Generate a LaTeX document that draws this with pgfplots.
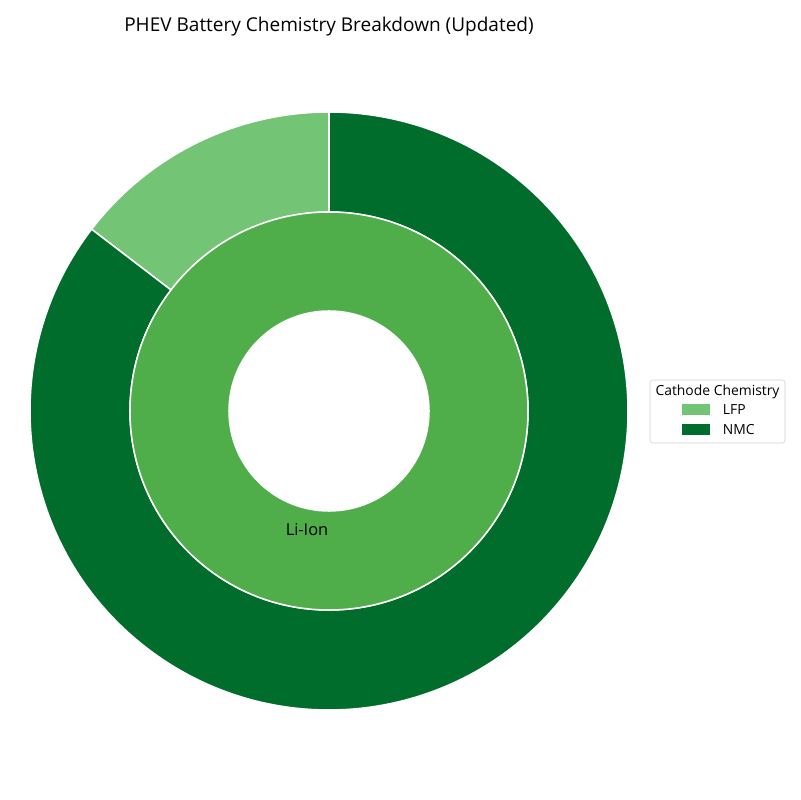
\documentclass[border=0pt]{standalone}
\usepackage{pgfplots}
\pgfplotsset{compat=1.18}
\usepackage{fontspec}
\setmainfont{Open Sans}

\definecolor{lfp}{HTML}{74C476}
\definecolor{nmc}{HTML}{006D2C}
\definecolor{liion}{HTML}{50AE4A}

% shares (%) of the outer ring
\def\lfpval{14.6}
\def\nmcval{85.4}

% geometry in pixels (800x800 canvas), 1px = 0.72pt
\def\cx{329}
\def\cy{389}
\def\Ro{299}
\def\Rm{199}
\def\Ri{100}
\def\px{0.72pt}

\begin{document}
\begin{tikzpicture}
\begin{axis}[
    name=ax,
    scale only axis,
    width=576pt, height=576pt,
    xmin=0, xmax=800, ymin=0, ymax=800,
    hide axis, clip=false,
]
\pgfmathsetmacro{\aA}{90}
\pgfmathsetmacro{\aB}{90+3.6*\lfpval}
\pgfmathsetmacro{\aC}{\aB+3.6*\nmcval}

% outer ring: LFP
\fill[lfp, draw=white, line width=1.1pt, line join=round]
  (axis cs:{\cx+\Ro*cos(\aA)},{\cy+\Ro*sin(\aA)})
  arc[start angle=\aA, end angle=\aB, radius=\Ro*\px]
  -- (axis cs:{\cx+\Rm*cos(\aB)},{\cy+\Rm*sin(\aB)})
  arc[start angle=\aB, end angle=\aA, radius=\Rm*\px] -- cycle;
% outer ring: NMC
\fill[nmc, draw=white, line width=1.1pt, line join=round]
  (axis cs:{\cx+\Ro*cos(\aB)},{\cy+\Ro*sin(\aB)})
  arc[start angle=\aB, end angle=\aC, radius=\Ro*\px]
  -- (axis cs:{\cx+\Rm*cos(\aC)},{\cy+\Rm*sin(\aC)})
  arc[start angle=\aC, end angle=\aB, radius=\Rm*\px] -- cycle;
% inner ring: Li-Ion (100%)
\fill[liion, even odd rule]
  (axis cs:\cx,\cy) circle[radius=\Rm*\px]
  (axis cs:\cx,\cy) circle[radius=\Ri*\px];
\draw[white, line width=1.1pt] (axis cs:\cx,\cy) circle[radius=\Rm*\px];
\draw[white, line width=1.1pt] (axis cs:\cx,\cy) circle[radius=\Ri*\px];

\node[font=\fontsize{11.8}{14}\selectfont] at (axis cs:307,270) {Li-Ion};

% title
\node[font=\fontsize{13.7}{16}\selectfont] at (axis cs:329,773) {PHEV Battery Chemistry Breakdown (Updated)};

% legend
\draw[black!18, fill=white, rounded corners=2pt] (axis cs:650,357) rectangle (axis cs:785,420);
\node[font=\fontsize{10}{12}\selectfont] at (axis cs:717.5,408) {Cathode Chemistry};
\fill[lfp] (axis cs:682,385) rectangle (axis cs:710,396);
\fill[nmc] (axis cs:682,365) rectangle (axis cs:710,376);
\node[font=\fontsize{10}{12}\selectfont, anchor=west] at (axis cs:718,390) {LFP};
\node[font=\fontsize{10}{12}\selectfont, anchor=west] at (axis cs:718,370) {NMC};
\end{axis}
\pgfresetboundingbox
\path (ax.south west) rectangle (ax.north east);
\end{tikzpicture}
\end{document}
